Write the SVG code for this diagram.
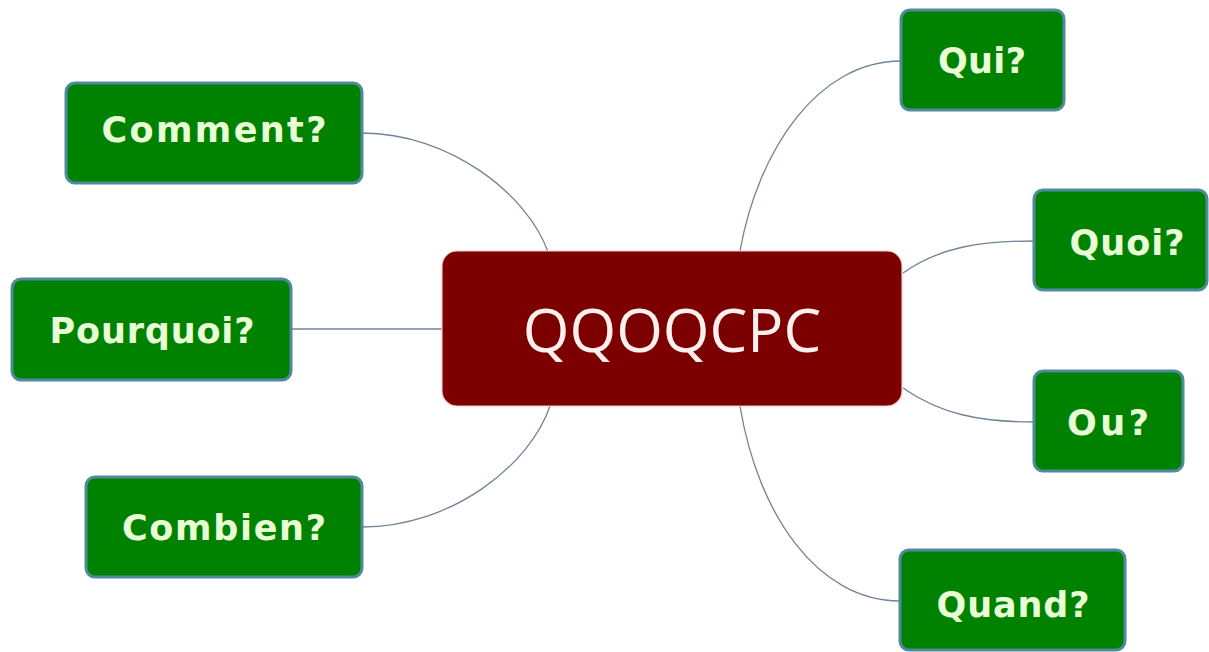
<svg xmlns="http://www.w3.org/2000/svg" width="1209" height="652" viewBox="0 0 1209 652">
  <style>
    .link { fill: none; stroke: #6f8497; stroke-width: 1.3; }
    .leaf rect { fill: #008200; stroke: #4f8a9e; stroke-width: 3; }
    .leaf text { fill: #e8ffd6; font-family: "DejaVu Sans", "Noto Sans", sans-serif; font-weight: bold; font-size: 35px; text-anchor: middle; }
    .root rect { fill: #7d0000; stroke: #f2c8c8; stroke-width: 1.2; }
    .root text { fill: #fff0ee; font-family: "Open Sans", "Noto Sans", sans-serif; font-size: 60px; text-anchor: middle; }
  </style>
  <rect width="1209" height="652" fill="#ffffff"/>

  <!-- connectors from the central topic to each question -->
  <g id="connectors">
    <path class="link" d="M362,133 C450,133 528,195 548,252"/>
    <path class="link" d="M291,329 L442,329"/>
    <path class="link" d="M362,527 C452,527 530,465 550,406"/>
    <path class="link" d="M901,61 C818,61 758,150 740,251"/>
    <path class="link" d="M903,273 C940,247 980,241 1034,241"/>
    <path class="link" d="M903,388 C940,414 980,422 1034,422"/>
    <path class="link" d="M740,406 C758,515 818,601 900,601"/>
  </g>

  <g id="root" class="root">
    <rect x="442" y="251" width="460" height="155" rx="15"/>
    <text x="672" y="352">QQOQCPC</text>
  </g>

  <g id="comment" class="leaf">
    <rect x="66" y="83" width="296" height="100" rx="9"/>
    <text x="214" y="142" textLength="225" lengthAdjust="spacing">Comment?</text>
  </g>

  <g id="pourquoi" class="leaf">
    <rect x="12" y="279" width="279" height="101" rx="9"/>
    <text x="152" y="343" textLength="205" lengthAdjust="spacing">Pourquoi?</text>
  </g>

  <g id="combien" class="leaf">
    <rect x="86" y="477" width="276" height="100" rx="9"/>
    <text x="224" y="540" textLength="204" lengthAdjust="spacing">Combien?</text>
  </g>

  <g id="qui" class="leaf">
    <rect x="901" y="10" width="163" height="100" rx="9"/>
    <text x="982" y="73" textLength="88" lengthAdjust="spacing">Qui?</text>
  </g>

  <g id="quoi" class="leaf">
    <rect x="1034" y="190" width="173" height="100" rx="9"/>
    <text x="1127" y="255" textLength="115" lengthAdjust="spacing">Quoi?</text>
  </g>

  <g id="ou" class="leaf">
    <rect x="1034" y="371" width="149" height="100" rx="9"/>
    <text x="1108" y="435" textLength="82" lengthAdjust="spacing">Ou?</text>
  </g>

  <g id="quand" class="leaf">
    <rect x="900" y="550" width="225" height="100" rx="9"/>
    <text x="1013" y="617" textLength="153" lengthAdjust="spacing">Quand?</text>
  </g>
</svg>
